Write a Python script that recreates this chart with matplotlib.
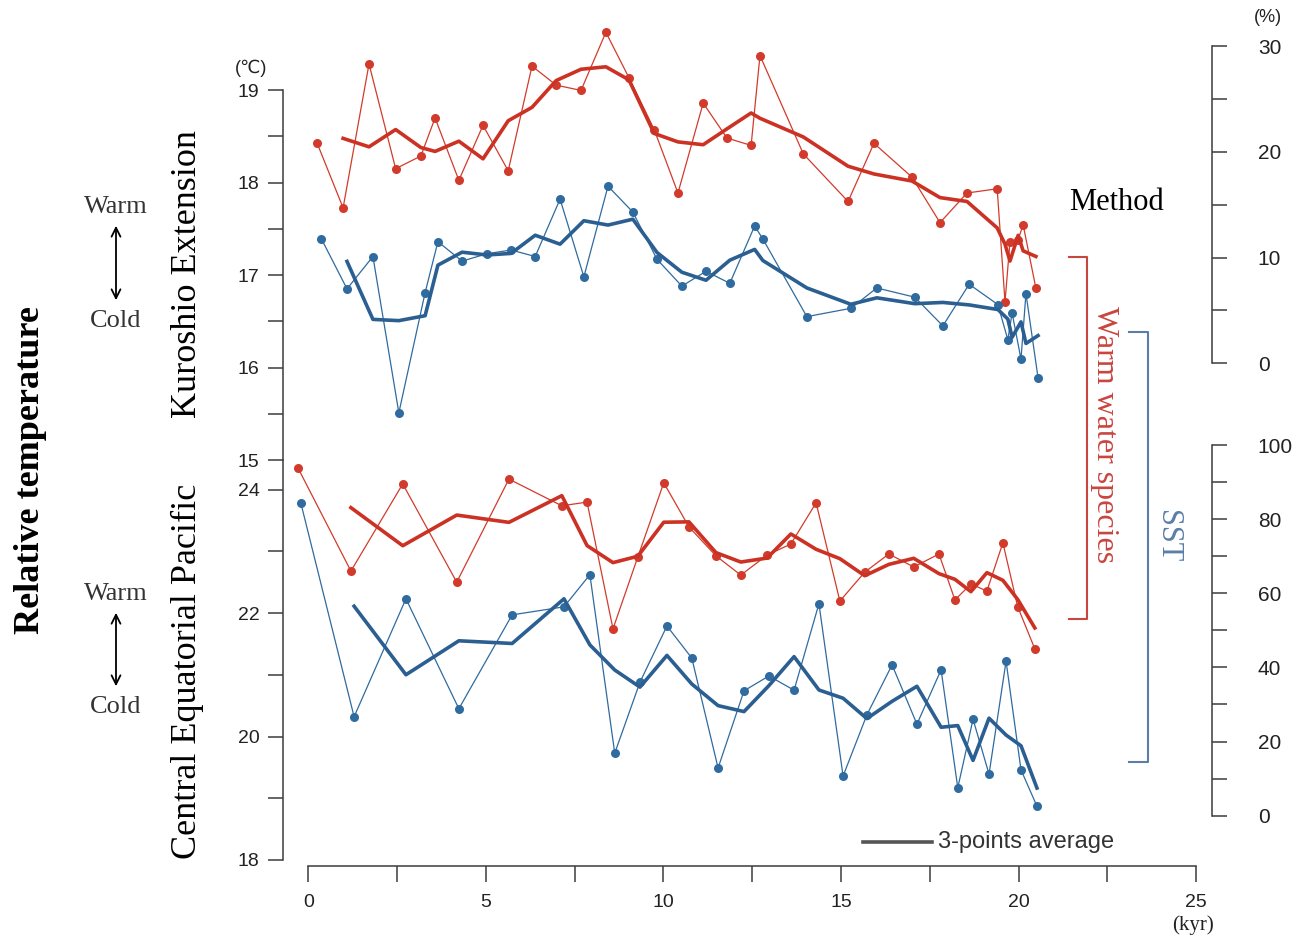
import numpy as np
import matplotlib
matplotlib.use("Agg")
import matplotlib.pyplot as plt
from matplotlib.lines import Line2D
from matplotlib.ticker import FixedLocator

# ---------------------------------------------------------------------------
# Data: age (kyr) and values
# ---------------------------------------------------------------------------
# Kuroshio Extension - warm water species (%)
ke_species_age = [0.25, 0.98, 1.71, 2.46, 3.17, 3.57, 4.24, 4.92, 5.63, 6.30,
                  6.98, 7.68, 8.38, 9.03, 9.74, 10.41, 11.12, 11.79, 12.47, 12.72,
                  13.94, 15.20, 15.93, 17.00, 17.79, 18.55, 19.40, 19.62, 19.76, 19.99,
                  20.13, 20.49]
ke_species_pct = [20.8, 14.7, 28.3, 18.4, 19.6, 23.2, 17.3, 22.5, 18.2, 28.1,
                  26.3, 25.8, 31.3, 27.0, 22.1, 16.1, 24.6, 21.3, 20.6, 29.1,
                  19.8, 15.3, 20.8, 17.6, 13.3, 16.1, 16.5, 5.8, 11.5, 11.7,
                  13.1, 7.1]

# Kuroshio Extension - SST (deg C)
ke_sst_age = [0.37, 1.09, 1.82, 2.55, 3.29, 3.65, 4.33, 5.03, 5.71, 6.39,
              7.09, 7.76, 8.44, 9.14, 9.82, 10.52, 11.20, 11.87, 12.57, 12.80,
              14.04, 15.28, 16.01, 17.08, 17.87, 18.61, 19.42, 19.70, 19.82, 20.07,
              20.21, 20.55]
ke_sst_degc = [17.39, 16.85, 17.20, 15.51, 16.81, 17.36, 17.15, 17.23, 17.27, 17.20,
               17.82, 16.98, 17.96, 17.68, 17.17, 16.88, 17.04, 16.91, 17.53, 17.39,
               16.55, 16.64, 16.86, 16.76, 16.45, 16.90, 16.68, 16.30, 16.59, 16.09,
               16.80, 15.89]

# Central Equatorial Pacific - warm water species (%)
cep_species_age = [-0.29, 1.20, 2.66, 4.18, 5.65, 7.14, 7.85, 8.58, 9.28, 10.01,
                   10.72, 11.48, 12.18, 12.92, 13.59, 14.30, 14.97, 15.67, 16.35, 17.05,
                   17.76, 18.21, 18.66, 19.11, 19.56, 19.98, 20.46]
cep_species_pct = [93.8, 66.0, 89.5, 63.0, 90.8, 83.6, 84.6, 50.4, 69.8, 89.8,
                   77.9, 70.1, 64.9, 70.3, 73.3, 84.4, 57.9, 65.7, 70.6, 67.1,
                   70.6, 58.2, 62.5, 60.6, 73.6, 56.3, 45.0]

# Central Equatorial Pacific - SST (deg C)
cep_sst_age = [-0.21, 1.29, 2.75, 4.24, 5.74, 7.20, 7.93, 8.63, 9.34, 10.10,
               10.80, 11.54, 12.27, 12.97, 13.68, 14.38, 15.06, 15.73, 16.44, 17.14,
               17.82, 18.29, 18.72, 19.17, 19.65, 20.07, 20.52]
cep_sst_degc = [23.78, 20.32, 22.23, 20.45, 21.97, 22.10, 22.62, 19.73, 20.88, 21.79,
                21.27, 19.49, 20.74, 20.98, 20.75, 22.15, 19.36, 20.35, 21.16, 20.20,
                21.08, 19.17, 20.28, 19.39, 21.22, 19.46, 18.87]

age_major = [0, 5, 10, 15, 20, 25]
age_minor = [2.5, 7.5, 12.5, 17.5, 22.5]
ke_sst_major = [15, 16, 17, 18, 19]
ke_sst_minor = [15.5, 16.5, 17.5, 18.5]
cep_sst_major = [18, 20, 22, 24]
cep_sst_minor = [19, 21, 23]
ke_pct_major = [0, 10, 20, 30]
ke_pct_minor = [5, 15, 25]
cep_pct_major = [0, 20, 40, 60, 80, 100]
cep_pct_minor = [10, 30, 50, 70, 90]


def three_point_average(age, values):
    """Running mean over each point and its neighbours (window truncated at the end)."""
    v = np.asarray(values, dtype=float)
    means = [v[i - 1:i + 2].mean() for i in range(1, len(v))]
    return np.asarray(age)[1:], np.array(means)


# ---------------------------------------------------------------------------
# Layout (figure pixels)
# ---------------------------------------------------------------------------
W, H = 1295, 940
AX_L, AX_R, AX_T, AX_B = 283, 1212, 20, 866
AGE0_PX, PX_PER_KYR = 308.3, 35.51

plt.rcParams["font.family"] = ["Liberation Sans", "DejaVu Sans"]
SERIF = ["Liberation Serif", "DejaVu Serif"]

RED = "#d23b2b"
RED_AVG = "#cc3224"
BLUE = "#2f6b9f"
BLUE_AVG = "#2c5f91"
AXIS = "#3c3c3c"
LABEL = "#222222"

fig = plt.figure(figsize=(W / 100, H / 100), dpi=100)
rect = [AX_L / W, 1 - AX_B / H, (AX_R - AX_L) / W, (AX_B - AX_T) / H]
xlim = ((AX_L - AGE0_PX) / PX_PER_KYR, (AX_R - AGE0_PX) / PX_PER_KYR)


def fx(px):
    return px / W


def fy(py):
    return 1 - py / H


def ylim_for(v_a, p_a, v_b, p_b):
    s = (p_a - p_b) / (v_b - v_a)
    return v_a - (AX_B - p_a) / s, v_a + (p_a - AX_T) / s


def value_at(lims, py):
    lo, hi = lims
    return lo + (AX_B - py) / (AX_B - AX_T) * (hi - lo)


def new_axes():
    ax = fig.add_axes(rect)
    ax.set_facecolor("none")
    ax.set_xlim(*xlim)
    for sp in ax.spines.values():
        sp.set_visible(False)
    ax.tick_params(axis="both", which="both", bottom=False, labelbottom=False,
                   left=False, labelleft=False, right=False, labelright=False,
                   top=False, labeltop=False)
    return ax


def style_y(ax, side, lims, bounds, major, minor, pad, size):
    ax.set_ylim(*lims)
    sp = ax.spines[side]
    sp.set_visible(True)
    sp.set_bounds(*bounds)
    sp.set_color(AXIS)
    sp.set_linewidth(1.1)
    ax.yaxis.set_major_locator(FixedLocator(major))
    ax.yaxis.set_minor_locator(FixedLocator(minor))
    if side == "right":
        ax.yaxis.set_ticks_position("right")
        ax.tick_params(axis="y", which="both", right=True, labelright=True,
                       left=False, labelleft=False)
    else:
        ax.tick_params(axis="y", which="both", left=True, labelleft=True)
    ax.tick_params(axis="y", which="both", direction="out", length=11, width=1.1,
                   color=AXIS, labelsize=size, labelcolor=LABEL, pad=pad)


def plot_series(ax, age, vals, color, avg_color):
    ax.plot(age, vals, color=color, lw=0.9, marker="o", ms=6.5, mew=0,
            clip_on=False, zorder=3)
    a_age, a_val = three_point_average(age, vals)
    ax.plot(a_age, a_val, color=avg_color, lw=2.6, solid_joinstyle="round",
            clip_on=False, zorder=4)


# Kuroshio Extension
ax_ke_pct = new_axes()
lims = ylim_for(0, 363.3, 30, 46)
style_y(ax_ke_pct, "right", lims, (0, 30), ke_pct_major, ke_pct_minor, 22, 15)
plot_series(ax_ke_pct, ke_species_age, ke_species_pct, RED, RED_AVG)

ax_ke_sst = new_axes()
lims = ylim_for(15, 460, 19, 90)
style_y(ax_ke_sst, "left", lims, (15, 19), ke_sst_major, ke_sst_minor, 6, 14)
plot_series(ax_ke_sst, ke_sst_age, ke_sst_degc, BLUE, BLUE_AVG)

# Central Equatorial Pacific
ax_cep_pct = new_axes()
lims = ylim_for(0, 815.7, 100, 445)
style_y(ax_cep_pct, "right", lims, (0, 100), cep_pct_major, cep_pct_minor, 22, 15)
plot_series(ax_cep_pct, cep_species_age, cep_species_pct, RED, RED_AVG)

ax_cep_sst = new_axes()
lims = ylim_for(18, 860, 24, 489.5)
style_y(ax_cep_sst, "left", lims, (18, value_at(lims, 460)), cep_sst_major,
        cep_sst_minor, 6, 14)
plot_series(ax_cep_sst, cep_sst_age, cep_sst_degc, BLUE, BLUE_AVG)

# Age axis
sp = ax_cep_sst.spines["bottom"]
sp.set_visible(True)
sp.set_bounds(0, 25)
sp.set_color(AXIS)
sp.set_linewidth(1.1)
ax_cep_sst.xaxis.set_major_locator(FixedLocator(age_major))
ax_cep_sst.xaxis.set_minor_locator(FixedLocator(age_minor))
ax_cep_sst.tick_params(axis="x", which="both", bottom=True, labelbottom=True,
                       direction="out", length=11.5, width=1.1, color=AXIS,
                       labelsize=14, labelcolor=LABEL, pad=9)

# Unit labels
fig.text(fx(251), fy(68), "(\u2103)", ha="center", va="center", fontsize=13,
         color=LABEL)
fig.text(fx(1268), fy(18), "(%)", ha="center", va="center", fontsize=13,
         color=LABEL)
fig.text(fx(1193), fy(925), "(kyr)", ha="center", va="center", fontsize=15,
         color=LABEL, family=SERIF)

# Left-hand titles
fig.text(fx(31), fy(470), "Relative temperature", rotation=90, ha="center",
         va="center", fontsize=26, fontweight="bold", family=SERIF, color="black")
fig.text(fx(187), fy(274), "Kuroshio Extension", rotation=90, ha="center",
         va="center", fontsize=26, family=SERIF, color="black")
fig.text(fx(187), fy(671), "Central Equatorial Pacific", rotation=90, ha="center",
         va="center", fontsize=26, family=SERIF, color="black")

for warm_y, cold_y in [(207, 321), (594, 707)]:
    fig.text(fx(116), fy(warm_y), "Warm", ha="center", va="center", fontsize=19,
             family=SERIF, color="#333333")
    fig.text(fx(116), fy(cold_y), "Cold", ha="center", va="center", fontsize=19,
             family=SERIF, color="#333333")
    fig.add_artist(matplotlib.patches.FancyArrowPatch(
        (fx(116), fy(warm_y + 16)), (fx(116), fy(cold_y - 18)),
        transform=fig.transFigure, arrowstyle="<->", mutation_scale=16,
        lw=1.3, color="black"))

# Method brackets
fig.text(fx(1117), fy(203), "Method", ha="center", va="center", fontsize=22,
         family=SERIF, color="black")

RED_BR = "#c9453f"
BLUE_BR = "#5a7ea8"
fig.add_artist(Line2D([fx(1069), fx(1087), fx(1087), fx(1069)],
                      [fy(257), fy(257), fy(619), fy(619)],
                      transform=fig.transFigure, color=RED_BR, lw=1.5))
fig.text(fx(1105), fy(435), "Warm water species", rotation=-90, ha="center",
         va="center", fontsize=23, family=SERIF, color=RED_BR)
fig.add_artist(Line2D([fx(1129), fx(1148), fx(1148), fx(1129)],
                      [fy(332), fy(332), fy(762), fy(762)],
                      transform=fig.transFigure, color=BLUE_BR, lw=1.5))
fig.text(fx(1167), fy(536), "SST", rotation=-90, ha="center", va="center",
         fontsize=22, family=SERIF, color=BLUE_BR)

# Legend for the smoothed curves
fig.add_artist(Line2D([fx(863), fx(932)], [fy(842), fy(842)],
                      transform=fig.transFigure, color="#555555", lw=2.6))
fig.text(fx(938), fy(842), "3-points average", ha="left", va="center",
         fontsize=17, color="#333333")

fig.savefig("out.png", dpi=100)
